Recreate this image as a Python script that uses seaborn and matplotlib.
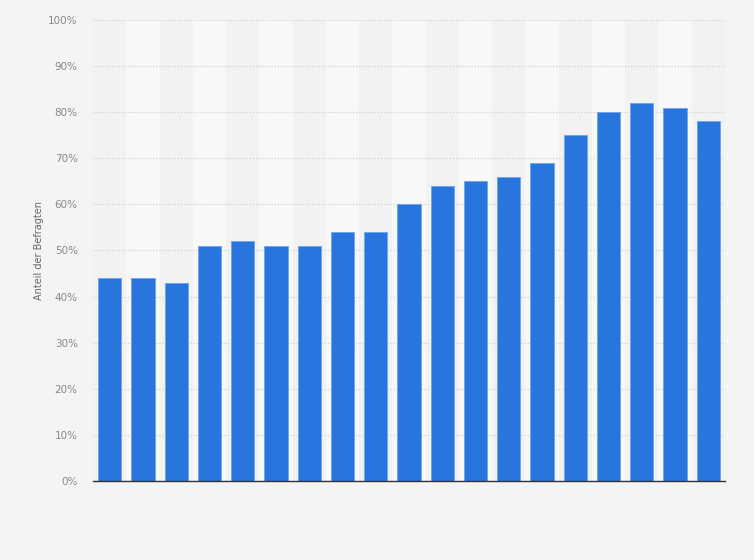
import numpy as np
import pandas as pd
import matplotlib
matplotlib.use("Agg")
import matplotlib.pyplot as plt
import seaborn as sns
from matplotlib.ticker import PercentFormatter

# survey share per period (x labels are not shown in the chart)
periods = [str(i) for i in range(1, 20)]
shares = [44, 44, 43, 51, 52, 51, 51, 54, 54, 60, 64, 65, 66, 69, 75, 80, 82, 81, 78]
y_ticks = list(range(0, 101, 10))

bar_color = "#2876dd"
bg_color = "#f4f4f4"

sns.set_style("white")
plt.rcParams["font.family"] = ["DejaVu Sans"]

fig = plt.figure(figsize=(7.54, 5.60), dpi=100, facecolor=bg_color)
ax = fig.add_axes([93 / 754, 1 - 481 / 560, (725 - 93) / 754, (481 - 20) / 560])
ax.set_facecolor("#f2f2f2")

# alternating light column bands behind the bars
for i in range(len(periods)):
    if i % 2 == 1:
        ax.axvspan(i - 0.5, i + 0.5, color="#f8f8f8", zorder=0, lw=0)

df = pd.DataFrame({"period": periods, "share": shares})
sns.barplot(data=df, x="period", y="share", color=bar_color, saturation=1, width=0.7,
            edgecolor="#6fa3ea", linewidth=0.6, ax=ax, zorder=3)

ax.set_xlim(-0.5, len(periods) - 0.5)
ax.set_ylim(0, 100)
ax.set_yticks(y_ticks)
ax.yaxis.set_major_formatter(PercentFormatter(decimals=0))
ax.grid(axis="y", color="#d0d0d0", linestyle=(0, (1, 1.5)), linewidth=0.9, zorder=1)
ax.set_axisbelow(True)

ax.set_xticks([])
ax.set_xlabel("")
ax.set_ylabel("Anteil der Befragten", fontsize=7, color="#666666")
ax.yaxis.set_label_coords(-0.077, 0.5)
ax.tick_params(axis="y", length=0, labelsize=7.5, labelcolor="#888888", pad=11)

for side in ["top", "right", "left"]:
    ax.spines[side].set_visible(False)
ax.spines["bottom"].set_color("#333333")
ax.spines["bottom"].set_linewidth(1.0)
ax.spines["bottom"].set_zorder(5)

fig.savefig("out.png", dpi=100, facecolor=bg_color)
